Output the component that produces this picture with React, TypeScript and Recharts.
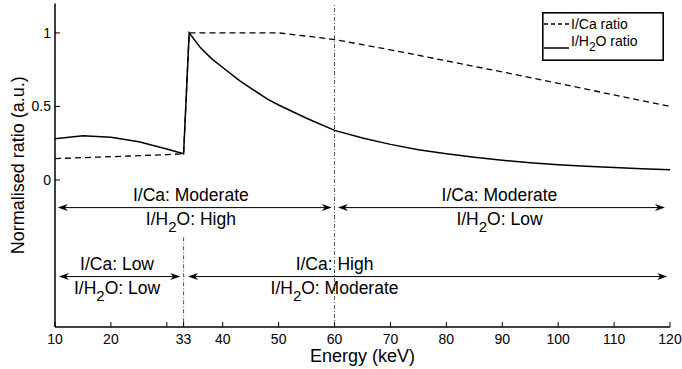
import React from "react";
import { ComposedChart, Line, XAxis, YAxis, ReferenceLine, Legend } from "recharts";

// energy grid (keV) shared by both ratios
const energy = [10, 15, 20, 25, 30, 33, 34, 36, 38, 40, 43, 45, 48, 50, 55, 60, 65, 70, 75, 80, 85, 90, 95, 100, 105, 110, 115, 120];
const iCaRatio = [0.145, 0.152, 0.158, 0.165, 0.172, 0.178, 1, 1, 1, 1, 1, 1, 1, 1, 0.978, 0.955, 0.92, 0.885, 0.848, 0.81, 0.772, 0.735, 0.696, 0.657, 0.618, 0.578, 0.539, 0.5];
const iH2oRatio = [0.28, 0.3, 0.29, 0.26, 0.21, 0.178, 1, 0.9, 0.825, 0.765, 0.675, 0.625, 0.55, 0.51, 0.42, 0.337, 0.285, 0.242, 0.205, 0.178, 0.155, 0.134, 0.117, 0.103, 0.093, 0.084, 0.077, 0.07];

const xTicks = [10, 20, 30, 33, 40, 50, 60, 70, 80, 90, 100, 110, 120];
const xTickLabels = [10, 20, 33, 40, 50, 60, 70, 80, 90, 100, 110, 120];
const yTicks = [0, 0.5, 1];

// contrast regions shown as double arrows
const arrowFrom = [10.5, 60.6, 10.7, 33.8];
const arrowTo = [59.5, 119.1, 32.4, 119.5];
const arrowLevel = [-0.188, -0.188, -0.657, -0.657];
const labelCentre = [34.3, 89.5, 21.1, 60];
const caLevel = ["Moderate", "Moderate", "Low", "High"];
const h2oLevel = ["High", "Low", "Low", "Moderate"];

const data = energy.map((e, i) => ({ energy: e, ica: iCaRatio[i], ih2o: iH2oRatio[i] }));

const FONT = "'Liberation Sans', Arial, Helvetica, sans-serif";

const BottomTick = ({ x, y, payload }: any) => (
  <g>
    <line x1={x} y1={y} x2={x} y2={y - 5} stroke="#000" />
    {xTickLabels.includes(payload.value) && (
      <text x={x} y={y + 17} textAnchor="middle" fontSize={14} fontFamily={FONT} fill="#000">
        {payload.value}
      </text>
    )}
  </g>
);

const TopTick = ({ x, y }: any) => <line x1={x} y1={y} x2={x} y2={y + 6} stroke="#000" />;

const LeftTick = ({ x, y, payload }: any) => (
  <g>
    <line x1={x} y1={y} x2={x + 5} y2={y} stroke="#000" />
    <text x={x - 4} y={y + 5} textAnchor="end" fontSize={14} fontFamily={FONT} fill="#000">
      {payload.value}
    </text>
  </g>
);

const RightTick = ({ x, y }: any) => <line x1={x} y1={y} x2={x - 5} y2={y} stroke="#000" />;

function arrowShape(i: number) {
  return (p: any) => {
    const a = Math.min(p.x1, p.x2);
    const b = Math.max(p.x1, p.x2);
    const y = p.y1;
    const cx = a + ((labelCentre[i] - arrowFrom[i]) / (arrowTo[i] - arrowFrom[i])) * (b - a);
    return (
      <g>
        <line x1={a + 7} y1={y} x2={b - 7} y2={y} stroke="#000" strokeWidth={1} />
        <path d={`M${a},${y} L${a + 10},${y - 3.5} L${a + 7},${y} L${a + 10},${y + 3.5} Z`} fill="#000" />
        <path d={`M${b},${y} L${b - 10},${y - 3.5} L${b - 7},${y} L${b - 10},${y + 3.5} Z`} fill="#000" />
        <text x={cx} y={y - 7} textAnchor="middle" fontSize={17.5} fontFamily={FONT} fill="#000">
          I/Ca: {caLevel[i]}
        </text>
        <text x={cx} y={y + 17} textAnchor="middle" fontSize={17.5} fontFamily={FONT} fill="#000">
          I/H<tspan dy={7} fontSize={15}>2</tspan>
          <tspan dy={-7}>O: {h2oLevel[i]}</tspan>
        </text>
      </g>
    );
  };
}

const LegendBox = () => (
  <svg width={122} height={49} style={{ display: "block", overflow: "visible" }} fontFamily={FONT}>
    <rect x={0.8} y={0.8} width={120.4} height={47.4} fill="#fff" stroke="#000" strokeWidth={1.6} />
    <line x1={2} y1={12} x2={27} y2={12} stroke="#000" strokeWidth={1.3} strokeDasharray="4 3" />
    <text x={29} y={16.5} fontSize={14} fill="#000">I/Ca ratio</text>
    <line x1={2} y1={36} x2={27} y2={36} stroke="#000" strokeWidth={1.5} />
    <text x={29} y={34} fontSize={14} fill="#000">
      I/H<tspan dy={5} fontSize={12}>2</tspan>
      <tspan dy={-5}>O ratio</tspan>
    </text>
  </svg>
);

export default function App() {
  return (
    <div style={{ position: "absolute", left: 0, top: 0, width: 682, height: 369, background: "#fff" }}>
      <ComposedChart width={682} height={369} data={data} margin={{ top: 3.5, right: 12, bottom: 0, left: 0 }}>
        <XAxis
          xAxisId="b"
          dataKey="energy"
          type="number"
          domain={[10, 120]}
          ticks={xTicks}
          interval={0}
          tickSize={0}
          tickMargin={0}
          tickLine={false}
          tick={BottomTick}
          height={42}
          axisLine={{ stroke: "#000", strokeWidth: 1.5 }}
          label={{ value: "Energy (keV)", position: "insideBottom", offset: 7, fontSize: 18, fill: "#000", fontFamily: FONT }}
        />
        <XAxis
          xAxisId="t"
          orientation="top"
          dataKey="energy"
          type="number"
          domain={[10, 120]}
          ticks={xTicks}
          interval={0}
          tickSize={0}
          tickMargin={0}
          tickLine={false}
          tick={TopTick}
          height={0}
          axisLine={{ stroke: "#000", strokeWidth: 1.5 }}
        />
        <YAxis
          yAxisId="l"
          type="number"
          domain={[-1, 1.2]}
          ticks={yTicks}
          interval={0}
          tickSize={0}
          tickMargin={0}
          tickLine={false}
          tick={LeftTick}
          width={55}
          axisLine={{ stroke: "#000", strokeWidth: 1.5 }}
          label={{
            value: "Normalised ratio (a.u.)",
            angle: -90,
            position: "insideLeft",
            offset: 18,
            fontSize: 18,
            fill: "#000",
            fontFamily: FONT,
            style: { textAnchor: "middle" },
          }}
        />
        <YAxis
          yAxisId="r"
          orientation="right"
          type="number"
          domain={[-1, 1.2]}
          ticks={yTicks}
          interval={0}
          tickSize={0}
          tickMargin={0}
          tickLine={false}
          tick={RightTick}
          width={0}
          axisLine={{ stroke: "#000", strokeWidth: 1.5 }}
        />
        <ReferenceLine xAxisId="b" yAxisId="l" x={60} stroke="#555" strokeDasharray="4 2 1 2" />
        <ReferenceLine
          xAxisId="b"
          yAxisId="l"
          segment={[{ x: 33, y: -0.39 }, { x: 33, y: -1 }]}
          stroke="#555"
          strokeDasharray="4 2 1 2"
        />
        {arrowFrom.map((f, i) => (
          <ReferenceLine
            key={i}
            xAxisId="b"
            yAxisId="l"
            segment={[{ x: f, y: arrowLevel[i] }, { x: arrowTo[i], y: arrowLevel[i] }]}
            shape={arrowShape(i)}
          />
        ))}
        <Line xAxisId="b" yAxisId="l" type="linear" dataKey="ica" stroke="#000" strokeWidth={1.3} strokeDasharray="6 4" dot={false} isAnimationActive={false} />
        <Line xAxisId="b" yAxisId="l" type="linear" dataKey="ih2o" stroke="#000" strokeWidth={1.5} dot={false} isAnimationActive={false} />
        <Legend
          layout="vertical"
          align="center"
          verticalAlign="middle"
          wrapperStyle={{ left: 542, top: 12, width: 122, height: 49 }}
          content={<LegendBox />}
        />
      </ComposedChart>
    </div>
  );
}
